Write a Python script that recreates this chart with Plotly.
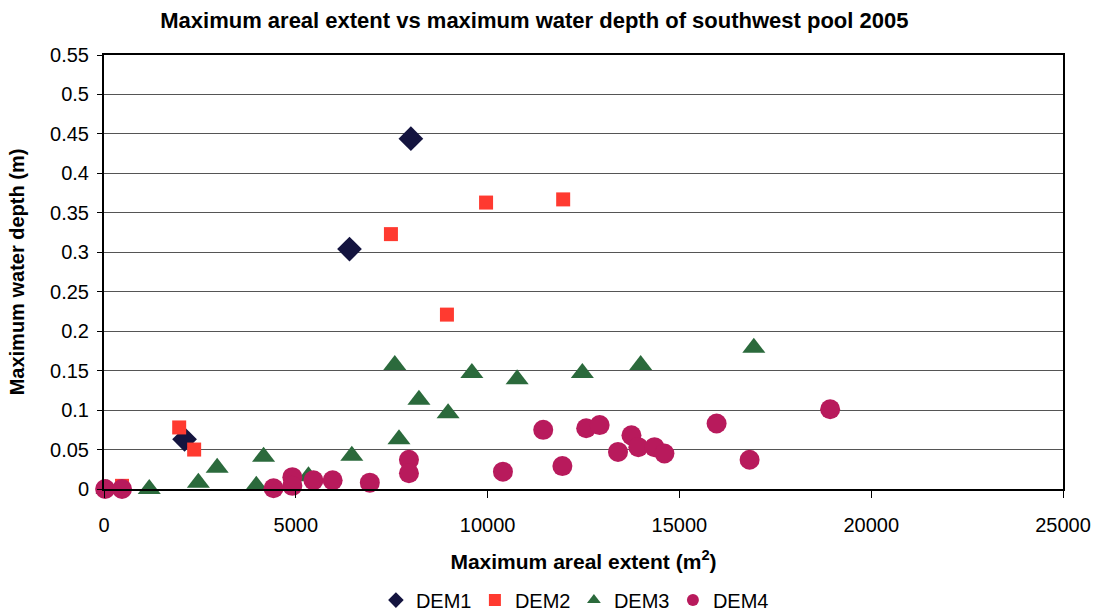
import plotly.graph_objects as go

dem1_x = [2100, 6400, 8000]
dem1_y = [0.063, 0.304, 0.444]

dem2_x = [470, 1960, 2350, 7480, 8940, 9960, 11970]
dem2_y = [0.004, 0.078, 0.050, 0.323, 0.221, 0.363, 0.367]

dem3_x = [80, 1180, 2460, 2950, 3970, 4160, 5330, 6460, 7690, 7580, 8210, 8970, 9590, 10770, 12470, 13990, 16940]
dem3_y = [0.0, 0.0, 0.008, 0.027, 0.004, 0.041, 0.016, 0.042, 0.063, 0.157, 0.113, 0.096, 0.147, 0.139, 0.147, 0.157, 0.179]

dem4_x = [30, 470, 4420, 4910, 4910, 5460, 5960, 6930, 7950, 7950, 10400, 11450, 11950, 12570, 12920,
          13400, 13750, 13930, 14350, 14610, 15970, 16830, 18930]
dem4_y = [0.0, 0.0, 0.001, 0.015, 0.004, 0.011, 0.011, 0.008, 0.037, 0.020, 0.022, 0.075, 0.029, 0.077, 0.081,
          0.047, 0.068, 0.053, 0.053, 0.045, 0.083, 0.037, 0.101]

x_ticks = [0, 5000, 10000, 15000, 20000, 25000]
y_ticks = [0, 0.05, 0.1, 0.15, 0.2, 0.25, 0.3, 0.35, 0.4, 0.45, 0.5, 0.55]
y_labels = ["0", "0.05", "0.1", "0.15", "0.2", "0.25", "0.3", "0.35", "0.4", "0.45", "0.5", "0.55"]

FONT = "Liberation Sans, Arial, sans-serif"

fig = go.Figure()
fig.add_trace(go.Scatter(x=dem1_x, y=dem1_y, mode="markers", name="DEM1", cliponaxis=False,
                         marker=dict(symbol="diamond", size=19, color="#14143f")))
fig.add_trace(go.Scatter(x=dem2_x, y=dem2_y, mode="markers", name="DEM2", cliponaxis=False,
                         marker=dict(symbol="square", size=14, color="#ff3a30")))
fig.add_trace(go.Scatter(x=dem3_x, y=dem3_y, mode="markers", name="DEM3", cliponaxis=False,
                         marker=dict(symbol="triangle-up", size=20, color="#2b6a3c")))
fig.add_trace(go.Scatter(x=dem4_x, y=dem4_y, mode="markers", name="DEM4", cliponaxis=False,
                         marker=dict(symbol="circle", size=20, color="#b81a5c")))

fig.update_layout(
    width=1095, height=611,
    margin=dict(l=104, r=32, t=55, b=122, autoexpand=False),
    paper_bgcolor="white", plot_bgcolor="white",
    font=dict(family=FONT, color="black"),
    title=dict(text="<b>Maximum areal extent vs maximum water depth of southwest pool 2005</b>",
               x=0.488, xanchor="center", y=0.967, yanchor="middle",
               font=dict(size=22, family=FONT, color="black")),
    xaxis=dict(range=[0, 25000], tickvals=x_ticks, ticktext=[str(v) for v in x_ticks],
               automargin=False, ticklabeloverflow="allow",
               showgrid=False, zeroline=False, showline=True, linecolor="black", linewidth=2,
               mirror=True, ticks="outside", ticklen=7, tickcolor="black", ticklabelstandoff=10,
               tickfont=dict(size=20, family=FONT),
               title=dict(text="<b>Maximum areal extent (m<sup>2</sup>)</b>", font=dict(size=21, family=FONT),
                          standoff=19)),
    yaxis=dict(range=[0, 0.55], tickvals=y_ticks, ticktext=y_labels,
               automargin=False,
               showgrid=True, gridcolor="#555555", gridwidth=1.2, zeroline=False,
               showline=True, linecolor="black", linewidth=2, mirror=True,
               ticks="outside", ticklen=5, tickcolor="black", ticklabelstandoff=4,
               tickfont=dict(size=20, family=FONT),
               title=dict(text="<b>Maximum water depth (m)</b>", font=dict(size=20, family=FONT),
                          standoff=20)),
    legend=dict(orientation="h", x=0.49, xanchor="center", y=-0.256, yanchor="middle",
                font=dict(size=20, family=FONT), itemwidth=30, itemsizing="constant",
                entrywidth=54, entrywidthmode="pixels", tracegroupgap=0),
    showlegend=True,
)

fig.write_html("out.html", config={"displayModeBar": False},
               post_script="document.body.style.margin='0px';document.body.style.overflow='hidden';")
